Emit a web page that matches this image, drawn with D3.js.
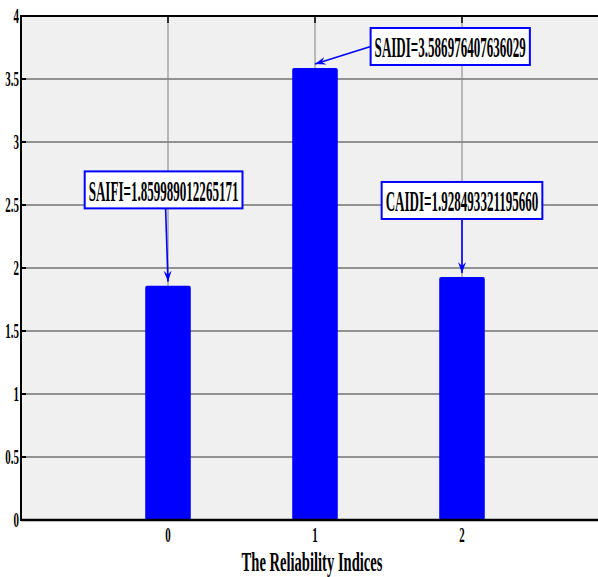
<!DOCTYPE html>
<html>
<head>
<meta charset="utf-8">
<script src="https://cdn.jsdelivr.net/npm/d3@7/dist/d3.min.js"></script>
<style>
  html, body { margin: 0; padding: 0; background: #ffffff; }
  svg { display: block; }
  text { font-family: "Liberation Serif", "Times New Roman", serif; font-weight: bold; fill: #000; }
</style>
</head>
<body>
<svg id="chart" width="598" height="577"></svg>
<script>
// Reliability indices, one bar each
const categories = [0, 1, 2];
const indexNames = ["SAIFI", "SAIDI", "CAIDI"];
const values = [1.859989012265171, 3.586976407636029, 1.928493321195660];
const valueLabels = ["1.859989012265171", "3.586976407636029", "1.928493321195660"];
// Callout box centres in data units [x, y]
const calloutCenters = [[-0.03, 2.62], [1.92, 3.758], [2.0, 2.536]];
const yTicks = [0, 0.5, 1, 1.5, 2, 2.5, 3, 3.5, 4];
const xTickLabels = ["0", "1", "2"];
const xLabel = "The Reliability Indices";

const svg = d3.select("#chart");
const W = 598, H = 577;
const margin = { left: 21, top: 16, bottom: 57 };
const plotBottom = H - margin.bottom;

const x = d3.scaleLinear().domain([-1, 3]).range([margin.left, 609]);
const y = d3.scaleLinear().domain([0, 4]).range([plotBottom, margin.top]);

const BLUE = "#0000ff";

// Place a text at (tx, ty), condensed horizontally by factor k
function condensedText(parent, tx, ty, str, size, k, anchor) {
  return parent.append("text")
    .attr("transform", `translate(${tx},${ty}) scale(${k},1)`)
    .attr("text-anchor", anchor)
    .attr("dominant-baseline", "central")
    .attr("font-size", size)
    .text(str);
}

// plot background
svg.append("rect")
  .attr("x", margin.left).attr("y", margin.top)
  .attr("width", W - margin.left).attr("height", plotBottom - margin.top)
  .attr("fill", "#f0f0f0");

// horizontal grid
svg.append("g").selectAll("line").data(yTicks.slice(1, -1)).join("line")
  .attr("x1", margin.left).attr("x2", W)
  .attr("y1", d => y(d)).attr("y2", d => y(d))
  .attr("stroke", "#929292").attr("stroke-width", 1.8);

// vertical grid
svg.append("g").selectAll("line").data(categories).join("line")
  .attr("x1", d => x(d)).attr("x2", d => x(d))
  .attr("y1", margin.top).attr("y2", plotBottom)
  .attr("stroke", "#808080").attr("stroke-width", 1);

// bars
const barW = 0.31;
svg.append("g").selectAll("rect").data(values).join("rect")
  .attr("x", (d, i) => x(categories[i] - barW / 2))
  .attr("width", x(barW) - x(0))
  .attr("y", d => y(d))
  .attr("height", d => y(0) - y(d))
  .attr("rx", 2)
  .attr("fill", BLUE);

// axes frame lines
svg.append("line").attr("x1", margin.left).attr("x2", W).attr("y1", margin.top).attr("y2", margin.top)
  .attr("stroke", "#000").attr("stroke-width", 2);
svg.append("line").attr("x1", margin.left).attr("x2", W).attr("y1", plotBottom).attr("y2", plotBottom)
  .attr("stroke", "#000").attr("stroke-width", 2.5);
svg.append("line").attr("x1", margin.left).attr("x2", margin.left).attr("y1", margin.top - 1).attr("y2", plotBottom + 1)
  .attr("stroke", "#000").attr("stroke-width", 2);

// inside ticks
svg.append("g").selectAll("line").data(yTicks).join("line")
  .attr("x1", margin.left).attr("x2", margin.left + 5)
  .attr("y1", d => y(d)).attr("y2", d => y(d))
  .attr("stroke", "#000").attr("stroke-width", 2);
svg.append("g").selectAll("line").data(categories).join("line")
  .attr("x1", d => x(d)).attr("x2", d => x(d))
  .attr("y1", margin.top).attr("y2", margin.top + 7)
  .attr("stroke", "#000").attr("stroke-width", 1.5);

// y tick labels
const yLab = svg.append("g");
yTicks.forEach(d => condensedText(yLab, margin.left - 2, y(d), d3.format("")(d), 21, 0.52, "end"));

// x tick labels
const xLab = svg.append("g");
categories.forEach((d, i) => condensedText(xLab, x(d), plotBottom + 15, xTickLabels[i], 21, 0.52, "middle"));

// x axis title
condensedText(svg, (margin.left + 609) / 2 - 3, 562, xLabel, 27, 0.54, "middle");

// arrowhead marker
const defs = svg.append("defs");
defs.append("marker")
  .attr("id", "arrow")
  .attr("viewBox", "0 0 12 10")
  .attr("refX", 11).attr("refY", 5)
  .attr("markerWidth", 12).attr("markerHeight", 10)
  .attr("markerUnits", "userSpaceOnUse")
  .attr("orient", "auto")
  .append("path")
  .attr("d", "M0,1 L11,5 L0,9 L4,5 Z")
  .attr("fill", BLUE);

// callouts
const boxH = 37, padX = 4, calloutK = 0.45;
const arrows = svg.append("g");
const callouts = svg.append("g");
values.forEach((v, i) => {
  const [cx, cy] = calloutCenters[i];
  const px = x(cx), py = y(cy);
  const g = callouts.append("g");
  const rect = g.append("rect").attr("fill", "#fff").attr("stroke", BLUE).attr("stroke-width", 2);
  const t = condensedText(g, px, py + 1, indexNames[i] + "=" + valueLabels[i], 29, calloutK, "middle");
  const tw = t.node().getComputedTextLength() * calloutK;
  const bx = px - tw / 2 - padX, bw = tw + 2 * padX;
  rect.attr("x", bx).attr("y", py - boxH / 2).attr("width", bw).attr("height", boxH);

  // arrow from box edge to just above bar top
  const tipX = x(categories[i]), tipY = y(v) - 4;
  let sx, sy;
  if (Math.abs(cx - categories[i]) < 0.2) { sx = px + (i === 0 ? 2 : 0); sy = py + boxH / 2; }
  else { sx = bx; sy = py; }
  arrows.append("line")
    .attr("x1", sx).attr("y1", sy).attr("x2", tipX).attr("y2", tipY)
    .attr("stroke", BLUE).attr("stroke-width", 1.6)
    .attr("marker-end", "url(#arrow)");
});
</script>
</body>
</html>
